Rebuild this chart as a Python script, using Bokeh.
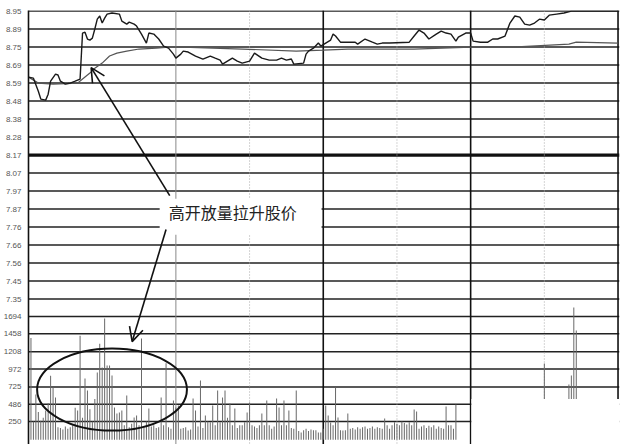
from bokeh.plotting import figure
from bokeh.models import Range1d, FixedTicker, CustomJSTickFormatter, Span, Arrow, OpenHead, Label
from bokeh.embed import file_html
from bokeh.resources import INLINE

# ---------------- data ----------------
price_minutes = [0, 2, 4, 5, 7, 8, 9, 11, 12, 13, 15, 17, 19, 21, 22, 23, 24, 25, 26, 27,
                 28, 29, 30, 31, 32, 34, 37, 38, 40, 41, 43, 44, 46, 48, 49, 51, 53, 55, 57, 59,
                 60, 62, 63, 65, 68, 71, 74, 76, 78, 79, 81, 83, 85, 87, 90, 92, 95, 98, 101, 103,
                 105, 107, 108, 112, 113, 114, 116, 118, 119, 121, 123, 124, 125, 127, 130, 133, 134, 137, 140, 142,
                 144, 147, 155, 157, 159, 161, 163, 166, 168, 170, 172, 174, 175, 178, 180, 181, 184, 187, 189, 191,
                 194, 196, 198, 200, 202, 204, 206, 208, 210, 212, 215, 218, 221, 240]
price_values = [8.614, 8.608, 8.534, 8.489, 8.483, 8.517, 8.591, 8.631, 8.626, 8.591, 8.574, 8.580, 8.591, 8.603, 8.865, 8.870, 8.831, 8.825, 8.836, 8.888,
                8.944, 8.962, 8.922, 8.950, 8.973, 8.979, 8.973, 8.933, 8.916, 8.927, 8.916, 8.905, 8.859, 8.808, 8.865, 8.859, 8.831, 8.791, 8.779, 8.745,
                8.722, 8.745, 8.762, 8.757, 8.734, 8.717, 8.734, 8.722, 8.711, 8.688, 8.705, 8.722, 8.705, 8.694, 8.705, 8.751, 8.722, 8.711, 8.711, 8.722,
                8.711, 8.717, 8.688, 8.694, 8.745, 8.762, 8.779, 8.808, 8.791, 8.808, 8.825, 8.859, 8.848, 8.813, 8.813, 8.813, 8.802, 8.831, 8.813, 8.802,
                8.808, 8.808, 8.813, 8.848, 8.882, 8.865, 8.831, 8.859, 8.876, 8.865, 8.859, 8.819, 8.842, 8.865, 8.865, 8.819, 8.813, 8.813, 8.831, 8.831,
                8.848, 8.922, 8.962, 8.956, 8.916, 8.910, 8.922, 8.944, 8.939, 8.967, 8.973, 8.979, 8.990, 8.990]

avg_minutes = [0, 4, 10, 20, 22, 25, 27, 30, 33, 36, 40, 45, 52, 57, 63, 87, 109, 120, 130, 144,
               157, 180, 197, 220, 223, 240]
avg_values = [8.614, 8.580, 8.574, 8.580, 8.603, 8.637, 8.665, 8.694, 8.734, 8.751, 8.762, 8.774, 8.779, 8.785, 8.785, 8.774, 8.762, 8.768, 8.774, 8.774,
              8.774, 8.785, 8.785, 8.802, 8.813, 8.808]

vol_minutes = list(range(0, 175)) + [210, 220, 221, 222, 223]
vol_values = [420, 1400, 250, 620, 380, 260, 300, 400, 500, 880,
              717, 580, 170, 160, 140, 180, 150, 170, 200, 440,
              400, 1430, 300, 840, 676, 420, 250, 560, 924, 1320,
              992, 1666, 1020, 1020, 882, 442, 360, 374, 400, 200,
              607, 170, 220, 305, 332, 200, 1390, 180, 250, 429,
              180, 200, 160, 170, 580, 200, 1050, 170, 150, 540,
              442, 470, 150, 160, 170, 125, 140, 566, 400, 180,
              814, 160, 332, 250, 240, 470, 200, 676, 240, 580,
              676, 300, 497, 200, 429, 160, 200, 200, 240, 374,
              510, 200, 180, 160, 200, 360, 200, 540, 200, 150,
              180, 566, 442, 200, 540, 200, 400, 160, 150, 676,
              120, 100, 130, 150, 120, 140, 130, 130, 100, 100,
              150, 470, 332, 236, 200, 717, 305, 130, 125, 130,
              360, 150, 160, 140, 170, 150, 170, 180, 150, 160,
              180, 150, 170, 160, 150, 290, 200, 150, 200, 240,
              220, 200, 250, 230, 210, 240, 200, 415, 387, 150,
              180, 200, 160, 190, 170, 200, 150, 180, 160, 150,
              456, 200, 200, 150, 484,
              1047, 760, 882, 1817, 1500]

prev_close = 8.17
price_step = 0.1025
price_tick_labels = ["8.95", "8.89", "8.75", "8.69", "8.59", "8.48", "8.38", "8.28", "8.17",
                     "8.07", "7.97", "7.87", "7.76", "7.66", "7.56", "7.45", "7.35"]
vol_tick_values = [1694, 1458, 1208, 972, 725, 486, 250]
annotation_text = "高开放量拉升股价"

# ---------------- scales ----------------
FRAME_H = 434
px = price_step / 18.0              # price per pixel
y_hi = prev_close + 8 * price_step + 0.6 * px
y_lo = y_hi - FRAME_H * px
kv = (1694 - 250) / 105.0           # volume per pixel
v_hi = 250 + 411 * kv
v_lo = v_hi - FRAME_H * kv

def vol_to_price(v):
    return y_lo + (v - v_lo) / (v_hi - v_lo) * (y_hi - y_lo)

price_ticks = [prev_close + price_step * k for k in range(8, -9, -1)]

p = figure(width=629, height=444, output_backend="svg", toolbar_location=None,
           x_range=Range1d(0, 240.6), y_range=Range1d(y_lo, y_hi),
           x_axis_location=None, y_axis_location="left",
           min_border_top=10, min_border_bottom=0, min_border_right=10, min_border_left=0,
           outline_line_color=None, background_fill_color="white")
p.extra_y_ranges = {"vol": Range1d(v_lo, v_hi)}
p.grid.visible = False

axis_ticks = price_ticks + [vol_to_price(v) for v in vol_tick_values]
axis_labels = price_tick_labels + [str(v) for v in vol_tick_values]
ax = p.yaxis[0]
ax.ticker = FixedTicker(ticks=axis_ticks)
ax.formatter = CustomJSTickFormatter(args=dict(tvals=axis_ticks, tlabels=axis_labels), code="""
for (let i = 0; i < tvals.length; i++) { if (Math.abs(tvals[i] - tick) < 1e-6) return tlabels[i]; }
return "";
""")
ax.major_tick_line_color = None
ax.minor_tick_line_color = None
ax.axis_line_color = "#111111"
ax.axis_line_width = 1.6
ax.major_label_text_font = "Liberation Sans"
ax.major_label_text_font_size = "8px"
ax.major_label_text_color = "#555555"
ax.major_label_standoff = 1

# horizontal grid lines
for t in price_ticks:
    thick = abs(t - prev_close) < 1e-9
    p.add_layout(Span(location=t, dimension="width", line_color="#111111" if thick else "#222222",
                      line_width=3.2 if thick else 1.5, level="underlay"))
for v in vol_tick_values:
    p.add_layout(Span(location=v, dimension="width", y_range_name="vol",
                      line_color="#222222", line_width=1.5, level="underlay"))
# vertical lines
p.add_layout(Span(location=60, dimension="height", line_color="#888888", line_width=1.0, level="underlay"))
for m in (120, 180, 240):
    p.add_layout(Span(location=m, dimension="height", line_color="#111111", line_width=1.6, level="underlay"))
for m in (90, 150, 210):
    p.add_layout(Span(location=m, dimension="height", line_color="#aaaaaa", line_width=1.0,
                      line_dash="1 2", level="underlay"))

# volume bars
p.vbar(x=vol_minutes, top=vol_values, bottom=0, width=0.4, y_range_name="vol",
       fill_color="#666666", line_color=None)

# blank (scan) areas
p.quad(left=[180.3], right=[250], bottom=[-500], top=[560], y_range_name="vol",
       fill_color="white", line_color=None)
p.quad(left=[53.4], right=[119.3], bottom=[7.717], top=[7.922],
       fill_color="white", line_color=None)

# price and average lines
p.line(avg_minutes, avg_values, line_color="#555555", line_width=1.2)
p.line(price_minutes, price_values, line_color="#1a1a1a", line_width=1.4)

# annotations
p.ellipse(x=[34], y=[6.835], width=61, height=0.467, fill_alpha=0,
          line_color="#111111", line_width=2)
p.add_layout(Arrow(x_start=57.5, y_start=7.939, x_end=25.5, y_end=8.668,
                   line_color="#111111", line_width=1.6,
                   end=OpenHead(size=14, line_width=1.6, line_color="#111111")))
p.add_layout(Arrow(x_start=56.0, y_start=7.746, x_end=42.2, y_end=7.108,
                   line_color="#111111", line_width=1.6,
                   end=OpenHead(size=14, line_width=1.6, line_color="#111111")))
p.add_layout(Label(x=57.1, y=7.848, text=annotation_text, text_font="Noto Sans CJK SC",
                   text_font_size="16px", text_baseline="middle", text_align="left",
                   text_color="#222222"))

open("out.html", "w").write(file_html(p, INLINE))
